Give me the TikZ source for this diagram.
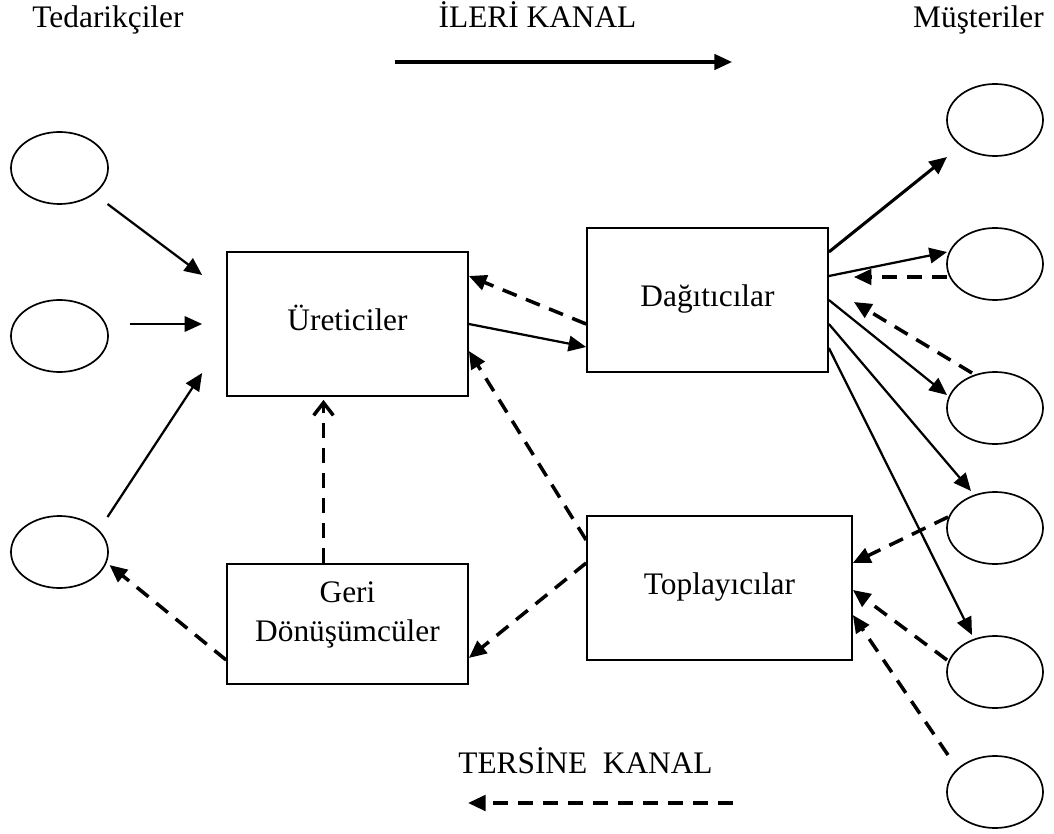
\documentclass[tikz,border=0pt]{standalone}
\usepackage{fontspec}
\setmainfont{Liberation Serif}
\usetikzlibrary{positioning,shapes.geometric,arrows.meta}

\begin{document}
\begin{tikzpicture}[x=0.025cm, y=-0.025cm,
	every node/.style={font=\fontsize{22.3}{27.7}\selectfont},
	plainbox/.style={draw, line width=1.2pt, inner sep=0pt, minimum width=6.025cm, minimum height=3.6cm},
	actor/.style={plainbox, text height=15.7pt, text depth=7.1pt},
	party/.style={draw, ellipse, line width=1.2pt, inner sep=0pt, minimum width=2.4cm, minimum height=1.8cm},
	flow/.style={line width=1.6pt, -{Triangle[length=12.5pt,width=11pt]}},
	retflow/.style={line width=2.5pt, dash pattern=on 10.7pt off 7.1pt, -{Triangle[length=12.5pt,width=11pt]}}]
	\useasboundingbox (0,0) rectangle (1054,834);

	% Titles
	\node [anchor=base] (supT) at (108,28) {Tedarikçiler};
	\node [anchor=base] (fwdT) at (537.5,28) {İLERİ KANAL};
	\node [anchor=base] (cusT) at (978.5,28) {Müşteriler};
	\node [anchor=base] (revT) at (585.5,773) {TERSİNE\ \ KANAL};

	% Channel arrows
	\coordinate (fwdA) at (395,62);
	\coordinate (fwdB) at (732,62);
	\draw [flow, line width=2.2pt] (fwdA) -- (fwdB);
	\coordinate (revA) at (733,803);
	\coordinate (revB) at (468,803);
	\draw [retflow] (revA) -- (revB);

	% Boxes
	\node [actor] (ur) at (347.5,324) {Üreticiler};
	\node [actor] (dag) at (707.5,300) {Dağıtıcılar};
	\node [actor, minimum width=6.625cm] (col) at (719.5,588) {Toplayıcılar};
	\node [plainbox, minimum height=3cm, align=center] (geri) at (347.5,624) {Geri\\Dönüşümcüler\rule[-17pt]{0pt}{0pt}};

	% Suppliers
	\node [party, minimum width=2.425cm] (s1) at (59.5,168) {};
	\node [party, minimum width=2.425cm] (s2) at (59.5,336) {};
	\node [party, minimum width=2.425cm] (s3) at (59.5,552) {};

	% Customers
	\node [party] (c1) at (995,120) {};
	\node [party] (c2) at (995,264) {};
	\node [party] (c3) at (995,408) {};
	\node [party] (c4) at (995,528) {};
	\node [party] (c5) at (995,672) {};
	\node [party] (c6) at (995,792) {};

	% Forward channel
	\draw [flow] ([shift={(48,36)}]s1.center) -- ([shift={(-24,-49)}]ur.west);
	\draw [flow] ([shift={(70,-12)}]s2.center) -- ([shift={(-24,0)}]ur.west);
	\draw [flow] ([shift={(48,-35)}]s3.center) -- ([shift={(-24,49)}]ur.west);
	\draw [flow] (ur.east) -- ([shift={(0,47)}]dag.west);
	\draw [flow, line width=2.2pt] ([shift={(0,-48)}]dag.east) -- ([shift={(-48,37)}]c1.center);
	\draw [flow] ([shift={(0,-24)}]dag.east) -- ([shift={(-48,-12)}]c2.center);
	\draw [flow] (dag.east) -- ([shift={(-48,-13)}]c3.center);
	\draw [flow] ([shift={(0,24)}]dag.east) -- ([shift={(-24,-37)}]c4.center);
	\draw [flow] ([shift={(0,48)}]dag.east) -- ([shift={(-23,-37)}]c5.center);

	% Reverse channel
	\draw [retflow] ([shift={(-48,13)}]c2.center) -- ([shift={(25,-23)}]dag.east);
	\draw [retflow] ([shift={(-23,-35)}]c3.center) -- ([shift={(25,2)}]dag.east);
	\draw [retflow] ([shift={(0,24)}]dag.west) -- ([shift={(0,-48)}]ur.east);
	\draw [retflow] ([shift={(-47,-11)}]c4.center) -- ([shift={(0,-25)}]col.east);
	\draw [retflow] ([shift={(-48,-12)}]c5.center) -- ([shift={(0,2)}]col.east);
	\draw [retflow] ([shift={(-47,-37)}]c6.center) -- ([shift={(0,27)}]col.east);
	\draw [retflow] ([shift={(0,-48)}]col.west) -- ([shift={(0,27)}]ur.east);
	\draw [retflow] ([shift={(0,-25)}]col.west) -- ([shift={(0,34)}]geri.east);
	\draw [retflow] ([shift={(0,36)}]geri.west) -- ([shift={(50,13)}]s3.center);
	\draw [retflow, -{Straight Barb[length=9pt,width=14pt]}] ([shift={(-24,0)}]geri.north) -- ([shift={(-24,3)}]ur.south);
\end{tikzpicture}
\end{document}
